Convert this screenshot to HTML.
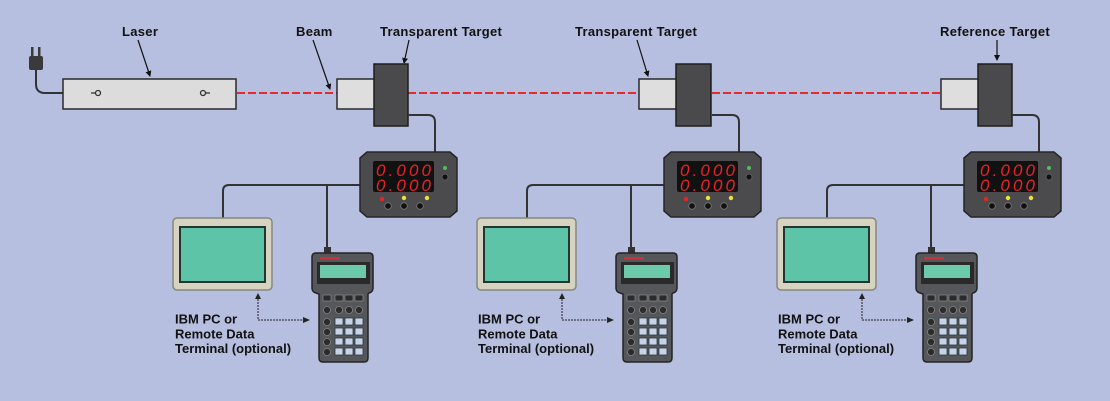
<!DOCTYPE html>
<html>
<head>
<meta charset="utf-8">
<style>
html,body{margin:0;padding:0;background:#b7bfe1;}
svg{display:block;}
text{font-family:"Liberation Sans",Arial,sans-serif;}
.lbl{font-size:13px;font-weight:bold;fill:#111;letter-spacing:0.3px;}
.sub{font-size:13px;font-weight:bold;fill:#111;}
.dig{font-size:17px;font-style:italic;fill:#e8222a;}
</style>
</head>
<body>
<svg width="1110" height="401" viewBox="0 0 1110 401" xmlns="http://www.w3.org/2000/svg">
<defs>
<marker id="ah" markerWidth="6" markerHeight="6" refX="5" refY="3" orient="auto" markerUnits="userSpaceOnUse">
<path d="M0,0 L6,3 L0,6 z" fill="#111"/>
</marker>
</defs>
<rect x="0" y="0" width="1110" height="401" fill="#b7bfe1"/>

<!-- top labels -->
<text class="lbl" x="122" y="36">Laser</text>
<text class="lbl" x="296" y="36">Beam</text>
<text class="lbl" x="380" y="36">Transparent Target</text>
<text class="lbl" x="575" y="36">Transparent Target</text>
<text class="lbl" x="940" y="36">Reference Target</text>

<g stroke="#111" stroke-width="1.2" fill="none" marker-end="url(#ah)">
<line x1="138" y1="40" x2="150" y2="76"/>
<line x1="313" y1="40" x2="330" y2="89"/>
<line x1="409" y1="40" x2="404" y2="63"/>
<line x1="637" y1="40" x2="648" y2="76"/>
<line x1="997" y1="40" x2="997" y2="60"/>
</g>

<!-- beam -->
<g stroke="#e52b2b" stroke-width="2" stroke-dasharray="8 3">
<line x1="237" y1="93" x2="337" y2="93"/>
<line x1="408" y1="93" x2="639" y2="93"/>
<line x1="712" y1="93" x2="941" y2="93"/>
</g>

<!-- plug and laser -->
<path d="M36,70 V84 Q36,93 45,93 H63" stroke="#333" stroke-width="2" fill="none"/>
<rect x="29" y="56" width="14" height="14" rx="2" fill="#3a3a3a"/>
<rect x="31" y="47" width="2.5" height="10" fill="#3a3a3a"/>
<rect x="38" y="47" width="2.5" height="10" fill="#3a3a3a"/>
<rect x="63" y="79" width="173" height="30" fill="#dcdcdc" stroke="#2a2a2a" stroke-width="1.5"/>
<circle cx="98" cy="93" r="2.5" fill="none" stroke="#333" stroke-width="1.3"/>
<line x1="91" y1="93" x2="95" y2="93" stroke="#333" stroke-width="1.3"/>
<circle cx="203" cy="93" r="2.5" fill="none" stroke="#333" stroke-width="1.3"/>
<line x1="206" y1="93" x2="210" y2="93" stroke="#333" stroke-width="1.3"/>

<!-- GROUP 1 -->
<g transform="translate(0,0)">
<rect x="337" y="79" width="38" height="30" fill="#dedede" stroke="#2a2a2a" stroke-width="1.5"/>
<rect x="374" y="64" width="34" height="62" fill="#4a4a4c" stroke="#1e1e1e" stroke-width="1.5"/>
</g>
<g transform="translate(302,0)">
<rect x="337" y="79" width="38" height="30" fill="#dedede" stroke="#2a2a2a" stroke-width="1.5"/>
<rect x="374" y="64" width="35" height="62" fill="#4a4a4c" stroke="#1e1e1e" stroke-width="1.5"/>
</g>
<g transform="translate(604,0)">
<rect x="337" y="79" width="38" height="30" fill="#dedede" stroke="#2a2a2a" stroke-width="1.5"/>
<rect x="374" y="64" width="34" height="62" fill="#4a4a4c" stroke="#1e1e1e" stroke-width="1.5"/>
</g>

<!-- repeated station: offsets 0, 304, 604 -->
<g id="st1" transform="translate(0,0)">
<path d="M408,115 H428 Q435,115 435,122 V152" stroke="#333" stroke-width="2" fill="none"/>
<path d="M360,185 H229 Q223,185 223,191 V218" stroke="#333" stroke-width="2" fill="none"/>
<path d="M327,185 V248" stroke="#333" stroke-width="2" fill="none"/>
<polygon points="367,152 450,152 457,158 457,211 450,217 367,217 360,211 360,158" fill="#4b4b4e" stroke="#262626" stroke-width="1.5"/>
<rect x="373" y="161" width="61" height="31" rx="2" fill="#111"/>
<text class="dig" x="376" y="176" textLength="55" lengthAdjust="spacing">0.000</text>
<text class="dig" x="376" y="191" textLength="55" lengthAdjust="spacing">0.000</text>
<circle cx="445" cy="168" r="2" fill="#4fbf5a"/>
<circle cx="445" cy="177" r="3" fill="#111" stroke="#666" stroke-width="0.8"/>
<circle cx="382" cy="199" r="2.2" fill="#e22"/>
<circle cx="404" cy="198" r="2.2" fill="#eee23a"/>
<circle cx="427" cy="198" r="2.2" fill="#eee23a"/>
<circle cx="388" cy="206" r="3.3" fill="#111" stroke="#777" stroke-width="0.8"/>
<circle cx="404" cy="206" r="3.3" fill="#111" stroke="#777" stroke-width="0.8"/>
<circle cx="420" cy="206" r="3.3" fill="#111" stroke="#777" stroke-width="0.8"/>
<rect x="173" y="218" width="99" height="72" rx="4" fill="#d6d4c0" stroke="#86867f" stroke-width="1.5"/>
<rect x="180" y="227" width="85" height="55" fill="#5ec4a8" stroke="#253530" stroke-width="2"/>
<rect x="324" y="247" width="7" height="7" fill="#333"/>
<path d="M316,253 H369 Q373,253 373,257 V288 Q373,292 369,293 L368,294 V358 Q368,362 364,362 H323 Q319,362 319,358 V294 L316,293 Q312,292 312,288 V257 Q312,253 316,253 Z" fill="#55575a" stroke="#242424" stroke-width="1.5"/>
<rect x="320" y="257" width="20" height="2.5" fill="#c8343a"/>
<rect x="317" y="262" width="53" height="22" fill="#2a2a2a"/>
<rect x="320" y="265" width="46" height="13" fill="#6cc9aa"/>
<g fill="#2b2b2b" stroke="#999" stroke-width="0.6">
<rect x="323" y="295" width="8" height="6"/><rect x="335" y="295" width="8" height="6"/><rect x="345" y="295" width="8" height="6"/><rect x="355" y="295" width="8" height="6"/>
<circle cx="327" cy="310" r="3.5"/><circle cx="339" cy="310" r="3.5"/><circle cx="349" cy="310" r="3.5"/><circle cx="359" cy="310" r="3.5"/>
<circle cx="327" cy="322" r="3.5"/><circle cx="327" cy="332" r="3.5"/><circle cx="327" cy="342" r="3.5"/><circle cx="327" cy="352" r="3.5"/>
</g>
<g fill="#c9d3e8" stroke="#2a3a40" stroke-width="0.8">
<rect x="335" y="318" width="8" height="7"/><rect x="345" y="318" width="8" height="7"/><rect x="355" y="318" width="8" height="7"/>
<rect x="335" y="328" width="8" height="7"/><rect x="345" y="328" width="8" height="7"/><rect x="355" y="328" width="8" height="7"/>
<rect x="335" y="338" width="8" height="7"/><rect x="345" y="338" width="8" height="7"/><rect x="355" y="338" width="8" height="7"/>
<rect x="335" y="348" width="8" height="7"/><rect x="345" y="348" width="8" height="7"/><rect x="355" y="348" width="8" height="7"/>
</g>
<path d="M258,299 V320 H304" stroke="#222" stroke-width="1" stroke-dasharray="2 1" fill="none"/>
<path d="M255,299 L258,293 L261,299 Z" fill="#222"/>
<path d="M303,317 L310,320 L303,323 Z" fill="#222"/>
<text class="sub" x="175" y="323.5">IBM PC or</text>
<text class="sub" x="175" y="338.5">Remote Data</text>
<text class="sub" x="175" y="353">Terminal (optional)</text>
</g>

<g transform="translate(304,0)">
<path d="M408,115 H428 Q435,115 435,122 V152" stroke="#333" stroke-width="2" fill="none"/>
<path d="M360,185 H229 Q223,185 223,191 V218" stroke="#333" stroke-width="2" fill="none"/>
<path d="M327,185 V248" stroke="#333" stroke-width="2" fill="none"/>
<polygon points="367,152 450,152 457,158 457,211 450,217 367,217 360,211 360,158" fill="#4b4b4e" stroke="#262626" stroke-width="1.5"/>
<rect x="373" y="161" width="61" height="31" rx="2" fill="#111"/>
<text class="dig" x="376" y="176" textLength="55" lengthAdjust="spacing">0.000</text>
<text class="dig" x="376" y="191" textLength="55" lengthAdjust="spacing">0.000</text>
<circle cx="445" cy="168" r="2" fill="#4fbf5a"/>
<circle cx="445" cy="177" r="3" fill="#111" stroke="#666" stroke-width="0.8"/>
<circle cx="382" cy="199" r="2.2" fill="#e22"/>
<circle cx="404" cy="198" r="2.2" fill="#eee23a"/>
<circle cx="427" cy="198" r="2.2" fill="#eee23a"/>
<circle cx="388" cy="206" r="3.3" fill="#111" stroke="#777" stroke-width="0.8"/>
<circle cx="404" cy="206" r="3.3" fill="#111" stroke="#777" stroke-width="0.8"/>
<circle cx="420" cy="206" r="3.3" fill="#111" stroke="#777" stroke-width="0.8"/>
<rect x="173" y="218" width="99" height="72" rx="4" fill="#d6d4c0" stroke="#86867f" stroke-width="1.5"/>
<rect x="180" y="227" width="85" height="55" fill="#5ec4a8" stroke="#253530" stroke-width="2"/>
<rect x="324" y="247" width="7" height="7" fill="#333"/>
<path d="M316,253 H369 Q373,253 373,257 V288 Q373,292 369,293 L368,294 V358 Q368,362 364,362 H323 Q319,362 319,358 V294 L316,293 Q312,292 312,288 V257 Q312,253 316,253 Z" fill="#55575a" stroke="#242424" stroke-width="1.5"/>
<rect x="320" y="257" width="20" height="2.5" fill="#c8343a"/>
<rect x="317" y="262" width="53" height="22" fill="#2a2a2a"/>
<rect x="320" y="265" width="46" height="13" fill="#6cc9aa"/>
<g fill="#2b2b2b" stroke="#999" stroke-width="0.6">
<rect x="323" y="295" width="8" height="6"/><rect x="335" y="295" width="8" height="6"/><rect x="345" y="295" width="8" height="6"/><rect x="355" y="295" width="8" height="6"/>
<circle cx="327" cy="310" r="3.5"/><circle cx="339" cy="310" r="3.5"/><circle cx="349" cy="310" r="3.5"/><circle cx="359" cy="310" r="3.5"/>
<circle cx="327" cy="322" r="3.5"/><circle cx="327" cy="332" r="3.5"/><circle cx="327" cy="342" r="3.5"/><circle cx="327" cy="352" r="3.5"/>
</g>
<g fill="#c9d3e8" stroke="#2a3a40" stroke-width="0.8">
<rect x="335" y="318" width="8" height="7"/><rect x="345" y="318" width="8" height="7"/><rect x="355" y="318" width="8" height="7"/>
<rect x="335" y="328" width="8" height="7"/><rect x="345" y="328" width="8" height="7"/><rect x="355" y="328" width="8" height="7"/>
<rect x="335" y="338" width="8" height="7"/><rect x="345" y="338" width="8" height="7"/><rect x="355" y="338" width="8" height="7"/>
<rect x="335" y="348" width="8" height="7"/><rect x="345" y="348" width="8" height="7"/><rect x="355" y="348" width="8" height="7"/>
</g>
<path d="M258,299 V320 H304" stroke="#222" stroke-width="1" stroke-dasharray="2 1" fill="none"/>
<path d="M255,299 L258,293 L261,299 Z" fill="#222"/>
<path d="M303,317 L310,320 L303,323 Z" fill="#222"/>
<text class="sub" x="174" y="323.5">IBM PC or</text>
<text class="sub" x="174" y="338.5">Remote Data</text>
<text class="sub" x="174" y="353">Terminal (optional)</text>
</g>

<g transform="translate(604,0)">
<path d="M408,115 H428 Q435,115 435,122 V152" stroke="#333" stroke-width="2" fill="none"/>
<path d="M360,185 H229 Q223,185 223,191 V218" stroke="#333" stroke-width="2" fill="none"/>
<path d="M327,185 V248" stroke="#333" stroke-width="2" fill="none"/>
<polygon points="367,152 450,152 457,158 457,211 450,217 367,217 360,211 360,158" fill="#4b4b4e" stroke="#262626" stroke-width="1.5"/>
<rect x="373" y="161" width="61" height="31" rx="2" fill="#111"/>
<text class="dig" x="376" y="176" textLength="55" lengthAdjust="spacing">0.000</text>
<text class="dig" x="376" y="191" textLength="55" lengthAdjust="spacing">0.000</text>
<circle cx="445" cy="168" r="2" fill="#4fbf5a"/>
<circle cx="445" cy="177" r="3" fill="#111" stroke="#666" stroke-width="0.8"/>
<circle cx="382" cy="199" r="2.2" fill="#e22"/>
<circle cx="404" cy="198" r="2.2" fill="#eee23a"/>
<circle cx="427" cy="198" r="2.2" fill="#eee23a"/>
<circle cx="388" cy="206" r="3.3" fill="#111" stroke="#777" stroke-width="0.8"/>
<circle cx="404" cy="206" r="3.3" fill="#111" stroke="#777" stroke-width="0.8"/>
<circle cx="420" cy="206" r="3.3" fill="#111" stroke="#777" stroke-width="0.8"/>
<rect x="173" y="218" width="99" height="72" rx="4" fill="#d6d4c0" stroke="#86867f" stroke-width="1.5"/>
<rect x="180" y="227" width="85" height="55" fill="#5ec4a8" stroke="#253530" stroke-width="2"/>
<rect x="324" y="247" width="7" height="7" fill="#333"/>
<path d="M316,253 H369 Q373,253 373,257 V288 Q373,292 369,293 L368,294 V358 Q368,362 364,362 H323 Q319,362 319,358 V294 L316,293 Q312,292 312,288 V257 Q312,253 316,253 Z" fill="#55575a" stroke="#242424" stroke-width="1.5"/>
<rect x="320" y="257" width="20" height="2.5" fill="#c8343a"/>
<rect x="317" y="262" width="53" height="22" fill="#2a2a2a"/>
<rect x="320" y="265" width="46" height="13" fill="#6cc9aa"/>
<g fill="#2b2b2b" stroke="#999" stroke-width="0.6">
<rect x="323" y="295" width="8" height="6"/><rect x="335" y="295" width="8" height="6"/><rect x="345" y="295" width="8" height="6"/><rect x="355" y="295" width="8" height="6"/>
<circle cx="327" cy="310" r="3.5"/><circle cx="339" cy="310" r="3.5"/><circle cx="349" cy="310" r="3.5"/><circle cx="359" cy="310" r="3.5"/>
<circle cx="327" cy="322" r="3.5"/><circle cx="327" cy="332" r="3.5"/><circle cx="327" cy="342" r="3.5"/><circle cx="327" cy="352" r="3.5"/>
</g>
<g fill="#c9d3e8" stroke="#2a3a40" stroke-width="0.8">
<rect x="335" y="318" width="8" height="7"/><rect x="345" y="318" width="8" height="7"/><rect x="355" y="318" width="8" height="7"/>
<rect x="335" y="328" width="8" height="7"/><rect x="345" y="328" width="8" height="7"/><rect x="355" y="328" width="8" height="7"/>
<rect x="335" y="338" width="8" height="7"/><rect x="345" y="338" width="8" height="7"/><rect x="355" y="338" width="8" height="7"/>
<rect x="335" y="348" width="8" height="7"/><rect x="345" y="348" width="8" height="7"/><rect x="355" y="348" width="8" height="7"/>
</g>
<path d="M258,299 V320 H304" stroke="#222" stroke-width="1" stroke-dasharray="2 1" fill="none"/>
<path d="M255,299 L258,293 L261,299 Z" fill="#222"/>
<path d="M303,317 L310,320 L303,323 Z" fill="#222"/>
<text class="sub" x="174" y="323.5">IBM PC or</text>
<text class="sub" x="174" y="338.5">Remote Data</text>
<text class="sub" x="174" y="353">Terminal (optional)</text>
</g>
</svg>
</body>
</html>
